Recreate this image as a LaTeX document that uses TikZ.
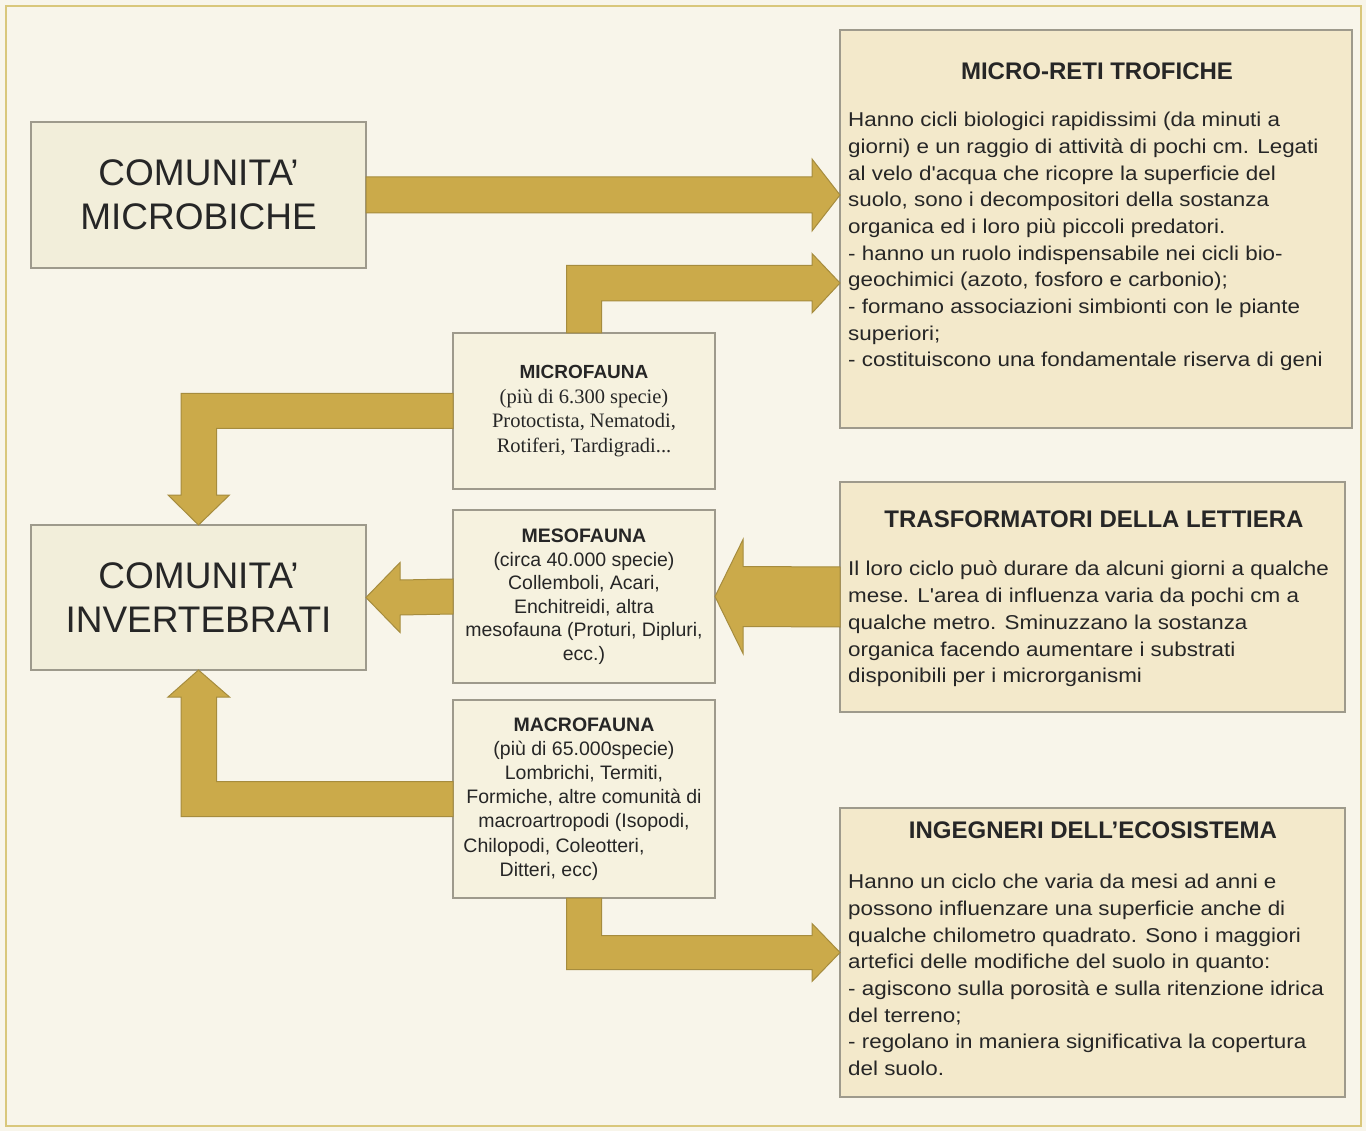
\documentclass[tikz,border=0pt]{standalone}
\usepackage{fontspec}
\setmainfont{Liberation Sans}
\newfontfamily\bodyfont{Liberation Sans}[FakeStretch=1.12]
\newfontfamily\timesfont{Liberation Serif}
\usetikzlibrary{calc}
\definecolor{bgc}{HTML}{F8F5EA}
\definecolor{framec}{HTML}{D9C77B}
\definecolor{boxedge}{HTML}{9E9A8C}
\definecolor{leftfill}{HTML}{F2EEDA}
\definecolor{midfill}{HTML}{F6F2DF}
\definecolor{rightfill}{HTML}{F3E9CB}
\definecolor{agold}{HTML}{CBAA4A}
\definecolor{aedge}{HTML}{A68C3E}
\definecolor{alight}{HTML}{E2C96A}
\definecolor{txt}{HTML}{262626}
\tikzset{
  bigbox/.style={draw=boxedge, fill=leftfill, line width=1.2pt, minimum width=335pt, minimum height=146pt,
    inner sep=0pt, outer sep=0pt, align=center, text=txt, font=\fontsize{37}{44}\selectfont},
  midbox/.style={draw=boxedge, fill=midfill, line width=1.2pt, minimum width=262pt,
    inner sep=0pt, outer sep=0pt, align=center, text=txt, font=\fontsize{19.5}{23.5}\selectfont},
  infobox/.style={draw=boxedge, fill=rightfill, line width=1.2pt, inner sep=0pt, outer sep=0pt},
  boxtitle/.style={font=\bfseries\fontsize{24}{28}\selectfont, anchor=base, text=txt, inner sep=0pt},
  boxbody/.style={font=\bodyfont\fontsize{20}{26.7}\selectfont, anchor=north west, align=left, inner sep=0pt, text=txt},
  barrow/.style={fill=agold, draw=aedge, line width=1pt, line join=miter},
}
\begin{document}
\begin{tikzpicture}[x=1pt,y=-1pt]
\useasboundingbox (0,0) rectangle (1366,1131);
\fill[bgc] (0,0) rectangle (1366,1131);
\draw[framec, line width=2pt] (6,6) rectangle (1361,1126);

% left boxes
\node[bigbox] (mb) at (198.5,195) {COMUNITA'\\MICROBICHE};
\node[bigbox, minimum height=145pt] (inv) at (198.5,597.5) {COMUNITA'\\INVERTEBRATI};

% right boxes
\node[infobox, minimum width=512pt, minimum height=398pt] (mr) at (1096,229) {};
\node[infobox, minimum width=505pt, minimum height=230pt] (tr) at (1092.5,597) {};
\node[infobox, minimum width=505pt, minimum height=289pt] (ing) at (1092.5,952.5) {};

\node[boxtitle] (mrt) at ($(mr.north)+(1,50)$) {MICRO-RETI TROFICHE};
\node[boxbody] (mrb) at ($(mr.north west)+(8,82)$) {Hanno cicli biologici rapidissimi (da minuti a\\
giorni) e un raggio di attività di pochi cm. Legati\\
al velo d'acqua che ricopre la superficie del\\
suolo, sono i decompositori della sostanza\\
organica ed i loro più piccoli predatori.\\
- hanno un ruolo indispensabile nei cicli bio-\\
geochimici (azoto, fosforo e carbonio);\\
- formano associazioni simbionti con le piante\\
superiori;\\
- costituiscono una fondamentale riserva di geni};

\node[boxtitle] (trt) at ($(tr.north)+(1.5,45)$) {TRASFORMATORI DELLA LETTIERA};
\node[boxbody] (trb) at ($(tr.north west)+(8,79)$) {Il loro ciclo può durare da alcuni giorni a qualche\\
mese. L'area di influenza varia da pochi cm a\\
qualche metro. Sminuzzano la sostanza\\
organica facendo aumentare i substrati\\
disponibili per i microrganismi};

\node[boxtitle] (ingt) at ($(ing.north)+(0.5,30)$) {INGEGNERI DELL'ECOSISTEMA};
\node[boxbody] (ingb) at ($(ing.north west)+(8,66)$) {Hanno un ciclo che varia da mesi ad anni e\\
possono influenzare una superficie anche di\\
qualche chilometro quadrato. Sono i maggiori\\
artefici delle modifiche del suolo in quanto:\\
- agiscono sulla porosità e sulla ritenzione idrica\\
del terreno;\\
- regolano in maniera significativa la copertura\\
del suolo.};

% middle boxes
\node[midbox, minimum height=156pt, font=\fontsize{19}{24.5}\selectfont] (micro) at (584,411)
  {{\bfseries MICROFAUNA}\\{\timesfont\fontsize{20.5}{24.5}\selectfont (più di 6.300 specie)}\\{\timesfont\fontsize{20.5}{24.5}\selectfont Protoctista, Nematodi,}\\{\timesfont\fontsize{20.5}{24.5}\selectfont Rotiferi, Tardigradi...}};
\node[midbox, minimum height=173pt] (meso) at (584,596.5)
  {{\bfseries MESOFAUNA}\\(circa 40.000 specie)\\Collemboli, Acari,\\Enchitreidi, altra\\mesofauna (Proturi, Dipluri,\\ecc.)};
\node[midbox, minimum height=198pt, font=\fontsize{19.5}{24.2}\selectfont] (macro) at (584,799)
  {{\bfseries MACROFAUNA}\\(più di 65.000specie)\\Lombrichi, Termiti,\\Formiche, altre comunità di\\macroartropodi (Isopodi,\\Chilopodi, Coleotteri,\kern60pt\\Ditteri, ecc)\kern70pt};

% block arrows
\coordinate (t1) at (mr.west |- mb.east);
\filldraw[barrow] ($(mb.east)+(0,-18)$) -- ($(t1)+(-28,-18)$) -- ++(0,-18) -- (t1)
  -- ++(-28,36) -- ++(0,-18) -- ($(mb.east)+(0,18)$) -- cycle;

\path (mr.west) ++(0,54) coordinate (t2);
\filldraw[barrow] ($(micro.north)+(-17.5,0)$) |- ($(t2)+(-28,-17.5)$) -- ++(0,-12) -- (t2)
  -- ++(-28,30) -- ++(0,-12) -| ($(micro.north)+(17.5,0)$) -- cycle;

\filldraw[barrow] ($(micro.west)+(0,-17.5)$) -| ($(inv.north)+(-17.5,-30)$) -- ++(-13,0) -- (inv.north)
  -- ++(31,-30) -- ++(-13,0) |- ($(micro.west)+(0,17.5)$) -- cycle;

\filldraw[barrow] ($(meso.west)+(0,-17.5)$) -- ($(inv.east)+(34,-17.5)$) -- ++(0,-17.5) -- (inv.east)
  -- ++(34,35) -- ++(0,-17.5) -- ($(meso.west)+(0,17.5)$) -- cycle;

\shadedraw[draw=aedge, line width=1pt, top color=agold, middle color=alight, bottom color=agold]
  ($(tr.west)+(0,-30)$) -- ($(meso.east)+(28,-30)$) -- ++(0,-27) -- (meso.east)
  -- ++(28,57) -- ++(0,-27) -- ($(tr.west)+(0,30)$) -- cycle;

\filldraw[barrow] ($(macro.west)+(0,17.5)$) -| ($(inv.south)+(-17.5,27)$) -- ++(-13,0) -- (inv.south)
  -- ++(31,27) -- ++(-13,0) |- ($(macro.west)+(0,-17.5)$) -- cycle;

\filldraw[barrow] ($(macro.south)+(-17.5,0)$) |- ($(ing.west)+(-28,17)$) -- ++(0,12) -- (ing.west)
  -- ++(-28,-29) -- ++(0,12) -| ($(macro.south)+(17.5,0)$) -- cycle;
\end{tikzpicture}
\end{document}
